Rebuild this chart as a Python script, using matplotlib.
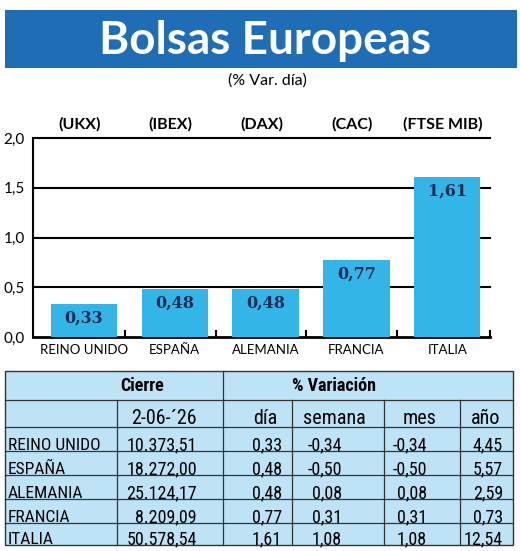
import matplotlib
matplotlib.use('Agg')
import matplotlib.pyplot as plt
from matplotlib import font_manager
from matplotlib.patches import Rectangle

# datos
paises = ['REINO UNIDO', 'ESPAÑA', 'ALEMANIA', 'FRANCIA', 'ITALIA']
indices = ['(UKX)', '(IBEX)', '(DAX)', '(CAC)', '(FTSE MIB)']
var_dia = [0.33, 0.48, 0.48, 0.77, 1.61]
cierre = [10373.51, 18272.00, 25124.17, 8209.09, 50578.54]
var_semana = [-0.34, -0.50, 0.08, 0.31, 1.08]
var_mes = [-0.34, -0.50, 0.08, 0.31, 1.08]
var_anio = [4.45, 5.57, 2.59, 0.73, 12.54]
fecha = '2-06-´26'
y_ticks = [0.0, 0.5, 1.0, 1.5, 2.0]
col_titulos = [fecha, 'día', 'semana', 'mes', 'año']

AZUL_CAB = '#1f6db4'
AZUL_BARRA = '#33b5e8'
AZUL_TABLA = '#bfe3f6'
NAVY = '#1c2d55'

fuentes = font_manager.fontManager.ttflist
nombres = {f.name for f in fuentes}
SANS = 'Lato' if 'Lato' in nombres else 'DejaVu Sans'

# buscar una fuente estrecha para la tabla
NARROW, STRETCH, k = SANS, 'normal', 0.82
for cand in ['Liberation Sans Narrow', 'Roboto Condensed', 'Open Sans Condensed']:
    if cand in nombres:
        NARROW, STRETCH, k = cand, 'normal', 1.0
        break
else:
    for f in fuentes:
        if f.name in ('DejaVu Sans', 'Noto Sans', 'Open Sans') and f.stretch in ('condensed', 'semi-condensed'):
            NARROW, STRETCH, k = f.name, f.stretch, 1.0
            break


def coma(v, dec=2):
    return f'{v:,.{dec}f}'.replace(',', 'X').replace('.', ',').replace('X', '.')


W, H = 520, 551
fig = plt.figure(figsize=(W / 100, H / 100), dpi=100)

# capa de fondo en pixeles: cabecera y tabla
ov = fig.add_axes([0, 0, 1, 1])
ov.set_xlim(0, W)
ov.set_ylim(H, 0)
ov.axis('off')

ov.add_patch(Rectangle((5, 10), 512, 58, color=AZUL_CAB, lw=0))
ov.text(265, 54, 'Bolsas Europeas', color='white', fontsize=33, fontweight='bold',
        family=SANS, ha='center', va='baseline')
ov.text(267, 81, '(% Var. día)', fontsize=11.5, family=SANS, ha='center', va='center')

# tabla
x0, x1 = 5, 513
filas = [371, 400, 427, 451, 475, 499, 523, 545]
ov.add_patch(Rectangle((x0, filas[0]), x1 - x0, filas[-1] - filas[0],
                       facecolor=AZUL_TABLA, edgecolor='#333333', lw=1))
for yy in filas[1:-1]:
    ov.plot([x0, x1], [yy, yy], color='#333333', lw=0.9)
ov.plot([223, 223], [filas[0], filas[-1]], color='#333333', lw=0.9)
for xx in [117, 292, 384, 460]:
    ov.plot([xx, xx], [filas[1], filas[-1]], color='#333333', lw=0.9)

tt = dict(family=NARROW, stretch=STRETCH)
ov.text(142, 386, 'Cierre', fontsize=13 * k, fontweight='bold', ha='center', va='center', **tt)
ov.text(334, 386, '% Variación', fontsize=13 * k, fontweight='bold', ha='center', va='center', **tt)
for cx, t in zip([164, 265, 334, 420, 486], col_titulos):
    ov.text(cx, 424, t, fontsize=14.5 * k, ha='center', va='baseline', **tt)

derechas = [197, 282, 342, 427, 503]
for i, p in enumerate(paises):
    yb = filas[i + 3] - 1
    ov.text(8, yb, p, fontsize=12.5 * k, ha='left', va='baseline', **tt)
    vals = [coma(cierre[i]), coma(var_dia[i]), coma(var_semana[i]),
            coma(var_mes[i]), coma(var_anio[i])]
    for xr, t in zip(derechas, vals):
        ov.text(xr, yb, t, fontsize=13 * k, ha='right', va='baseline', **tt)

# grafico de barras
ax = fig.add_axes([33 / W, 1 - 337 / H, 457 / W, 199 / H])
x = list(range(len(paises)))
ax.bar(x, var_dia, width=0.73, color=AZUL_BARRA, zorder=3)
ax.set_xlim(-0.56, 4.47)
ax.set_ylim(0, 2.0)
for v in y_ticks[1:]:
    ax.axhline(v, color='black', lw=1.5, zorder=1, clip_on=False)

for s in ['top', 'right']:
    ax.spines[s].set_visible(False)
ax.spines['left'].set_linewidth(1.5)
ax.spines['bottom'].set_linewidth(2)
ax.patch.set_alpha(0)

ax.set_yticks(y_ticks)
ax.set_yticklabels([coma(v, 1) for v in y_ticks], fontsize=11, family=SANS)
ax.tick_params(axis='y', length=0, pad=6)
ax.set_xticks(x)
ax.set_xticklabels(paises, fontsize=9.5, family=SANS)
ax.tick_params(axis='x', which='major', length=0, pad=5)
ax.set_xticks([0.45, 1.45, 2.45, 3.45, 4.47], minor=True)
ax.tick_params(axis='x', which='minor', direction='in', length=5, width=1.5, color='black')

for i, v in enumerate(var_dia):
    ax.annotate(coma(v), (i, v), xytext=(0, -10), textcoords='offset points',
                ha='center', va='center', fontsize=11.5, fontweight='bold',
                family='DejaVu Serif', color=NAVY, zorder=4)
for i, lbl in enumerate(indices):
    ax.annotate(lbl, (i, 1), xycoords=('data', 'axes fraction'), xytext=(-3, 10),
                textcoords='offset points', ha='center', va='center',
                fontsize=11.5, fontweight='bold', family=SANS)

fig.savefig('out.png', dpi=100)
